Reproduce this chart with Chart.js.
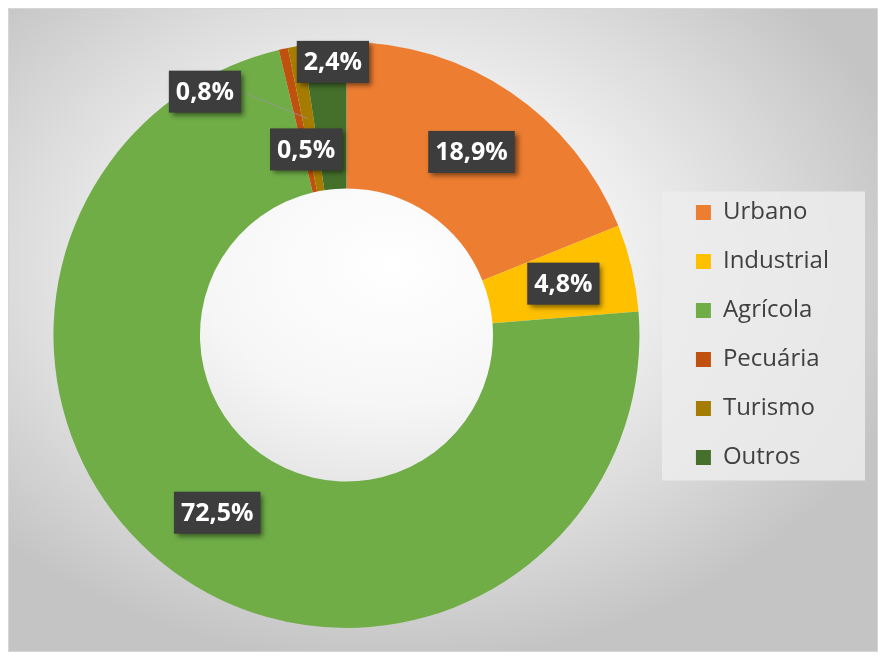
<!DOCTYPE html>
<html>
<head>
<meta charset="utf-8">
<script src="https://cdn.jsdelivr.net/npm/chart.js@4"></script>
<style>
  html, body { margin: 0; padding: 0; background: #ffffff; }
  #moldura {
    position: absolute; left: 8px; top: 8px; width: 868px; height: 642px;
    border: 1px solid #d6d6d6;
    background: radial-gradient(ellipse 62% 62% at 44% 40%, #ffffff 0%, #f6f6f6 35%, #dcdcdc 70%, #c4c4c4 100%);
  }
  #caixa { position: absolute; left: 0; top: 0; width: 884px; height: 658px; }
</style>
</head>
<body>
<div id="moldura"></div>
<div id="caixa"><canvas id="myChart"></canvas></div>
<script>
// categorias e valores (%)
const categorias = ['Urbano', 'Industrial', 'Agrícola', 'Pecuária', 'Turismo', 'Outros'];
const valores = [18.9, 4.8, 72.5, 0.5, 0.8, 2.4];
const cores = ['#ED7D31', '#FFC000', '#70AD47', '#C0500E', '#A57C00', '#44702B'];

// deslocamento dos rótulos (como foram arrastados no Excel)
const desvios = [[2, -1], [3, -1], [0, 0], [7, 29], [-103, -27], [3, -54]];
const linhaGuia = [false, false, false, false, true, false];

function textoRotulo(v) {
  return v.toFixed(1).replace('.', ',') + '%';
}

// fundo claro da legenda
const fundoLegenda = {
  id: 'fundoLegenda',
  beforeDraw(chart) {
    const caixas = chart.legend.legendHitBoxes;
    if (!caixas || !caixas.length) return;
    let l = Infinity, t = Infinity, r = -Infinity, b = -Infinity;
    caixas.forEach(c => {
      l = Math.min(l, c.left); t = Math.min(t, c.top);
      r = Math.max(r, c.left + c.width); b = Math.max(b, c.top + c.height);
    });
    const ctx = chart.ctx;
    ctx.save();
    ctx.fillStyle = 'rgba(236,236,236,0.85)';
    ctx.fillRect(l - 34, t - 9, (r - l) + 70, (b - t) + 20);
    ctx.restore();
  }
};

// rótulos de dados com caixa escura e sombra
const rotulos = {
  id: 'rotulos',
  afterDatasetsDraw(chart) {
    const ctx = chart.ctx;
    const meta = chart.getDatasetMeta(0);
    ctx.save();
    ctx.font = 'bold 25px "Open Sans"';
    meta.data.forEach((arc, i) => {
      const p = arc.tooltipPosition();
      const x = p.x + desvios[i][0];
      const y = p.y + desvios[i][1];
      const txt = textoRotulo(valores[i]);
      const w = ctx.measureText(txt).width + 14;
      const h = 42;
      if (linhaGuia[i]) {
        ctx.strokeStyle = 'rgba(150,150,150,0.8)';
        ctx.lineWidth = 1;
        ctx.beginPath();
        ctx.moveTo(x + w / 2, y);
        ctx.lineTo(p.x, p.y);
        ctx.stroke();
      }
      ctx.shadowColor = 'rgba(0,0,0,0.5)';
      ctx.shadowBlur = 5;
      ctx.shadowOffsetX = 3;
      ctx.shadowOffsetY = 3;
      ctx.fillStyle = '#3d3d3d';
      ctx.fillRect(x - w / 2, y - h / 2, w, h);
      ctx.shadowColor = 'transparent';
      ctx.fillStyle = '#ffffff';
      ctx.textAlign = 'center';
      ctx.textBaseline = 'middle';
      ctx.fillText(txt, x, y + 1);
    });
    ctx.restore();
  }
};

new Chart('myChart', {
  type: 'doughnut',
  data: {
    labels: categorias,
    datasets: [{
      data: valores,
      backgroundColor: cores,
      borderWidth: 0
    }]
  },
  options: {
    responsive: true,
    maintainAspectRatio: false,
    animation: false,
    cutout: '50%',
    layout: { padding: { left: 22, top: 42, bottom: 30, right: 45 } },
    plugins: {
      tooltip: { enabled: false },
      legend: {
        position: 'right',
        labels: {
          boxWidth: 15,
          boxHeight: 15,
          padding: 25,
          color: '#404040',
          font: { family: '"Open Sans"', size: 24 }
        }
      }
    }
  },
  plugins: [fundoLegenda, rotulos]
});
</script>
</body>
</html>
